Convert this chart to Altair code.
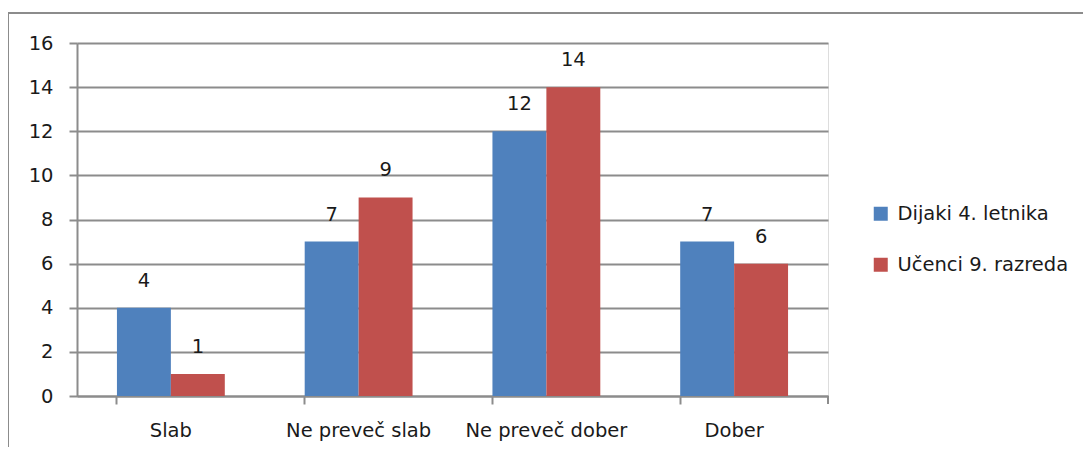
import altair as alt
import pandas as pd

categories = ["Slab", "Ne preveč slab", "Ne preveč dober", "Dober"]
series_names = ["Dijaki 4. letnika", "Učenci 9. razreda"]
dijaki = [4, 7, 12, 7]
ucenci = [1, 9, 14, 6]
colors = ["#4F81BD", "#C0504D"]
y_ticks = [0, 2, 4, 6, 8, 10, 12, 14, 16]

rows = []
for c, a, b in zip(categories, dijaki, ucenci):
    rows.append({"cat": c, "series": series_names[0], "value": a})
    rows.append({"cat": c, "series": series_names[1], "value": b})
df = pd.DataFrame(rows)

FONT = "DejaVu Sans"
FS = 19.5
W, H = 751, 353

x = alt.X("cat:N", sort=categories, title=None,
          scale=alt.Scale(paddingInner=80 / 188, paddingOuter=40 / 188),
          axis=alt.Axis(labelAngle=0, bandPosition=0, tickSize=8, tickColor="#8c8c8c",
                        tickWidth=2, domainColor="#8c8c8c", domainWidth=2,
                        labelFontSize=FS, labelFont=FONT, labelColor="#1a1a1a",
                        labelPadding=17, labelLimit=300, grid=False))
y = alt.Y("value:Q", title=None,
          scale=alt.Scale(domain=[0, 16], nice=False),
          axis=alt.Axis(values=y_ticks, tickSize=8, tickColor="#8c8c8c", tickWidth=2,
                        domainColor="#8c8c8c", domainWidth=2,
                        gridColor="#8c8c8c", gridWidth=2,
                        labelFontSize=FS, labelFont=FONT, labelColor="#1a1a1a",
                        labelPadding=16))
color = alt.Color("series:N", sort=series_names,
                  scale=alt.Scale(domain=series_names, range=colors),
                  legend=alt.Legend(title=None, orient="none", legendX=794, legendY=161,
                                    symbolType="square", symbolSize=196,
                                    symbolStrokeWidth=0, labelFontSize=FS,
                                    labelFont=FONT, labelColor="#1a1a1a", labelLimit=300,
                                    labelOffset=7, rowPadding=30, padding=0))
xoff = alt.XOffset("series:N", sort=series_names, scale=alt.Scale(paddingInner=0, paddingOuter=0))

bars = alt.Chart(df).mark_bar().encode(x=x, y=y, color=color, xOffset=xoff)
labels = alt.Chart(df).mark_text(dy=-27, fontSize=FS, font=FONT, color="#1a1a1a").encode(
    x=alt.X("cat:N", sort=categories), y="value:Q", xOffset=xoff, text="value:Q")
end_tick = alt.Chart(df).mark_rule(color="#8c8c8c", strokeWidth=2).encode(
    x=alt.value(W), y=alt.value(H), y2=alt.value(H + 8))
frame = alt.Chart(df).mark_rect(fill=None, stroke="#8c8c8c", strokeWidth=2).encode(
    x=alt.value(-69), y=alt.value(-30), x2=alt.value(W + 260), y2=alt.value(H + 80))

chart = alt.layer(frame, bars, labels, end_tick).properties(
    width=W, height=H,
    autosize=alt.AutoSizeParams(type="none"),
    padding={"left": 69, "top": 35, "right": 255, "bottom": 51},
).configure_view(stroke=None).configure(background="white")

chart.save("out.html", embed_options={"renderer": "svg", "actions": False})
